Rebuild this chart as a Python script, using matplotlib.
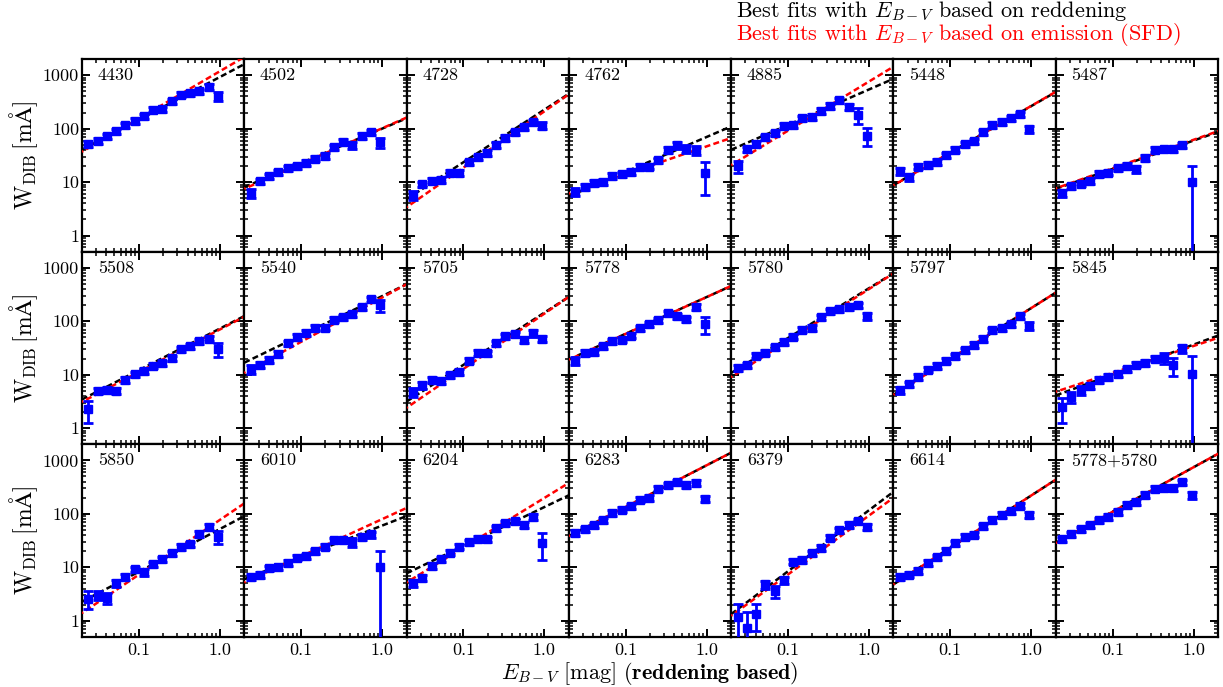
import numpy as np
import matplotlib.pyplot as plt
from matplotlib import ticker

plt.rcParams['font.family'] = 'cmr10'
plt.rcParams['mathtext.fontset'] = 'cm'
plt.rcParams['axes.formatter.use_mathtext'] = True
plt.rcParams['axes.unicode_minus'] = False

# reddening bins (same for every DIB)
ebv = [0.024, 0.0312, 0.0406, 0.0527, 0.0685, 0.0891, 0.116, 0.150, 0.196,
       0.254, 0.331, 0.430, 0.559, 0.727, 0.945]

panels = ['4430', '4502', '4728', '4762', '4885', '5448', '5487',
          '5508', '5540', '5705', '5778', '5780', '5797', '5845',
          '5850', '6010', '6204', '6283', '6379', '6614', '5778+5780']

# equivalent widths [mA] and errors per DIB
w_4430 = [51.5, 58.7, 72.6, 88.6, 115, 140, 171, 227, 232, 329, 431, 464, 505, 599, 413]
e_4430 = [6, 7, 8, 10, 13, 16, 19, 25, 26, 37, 48, 52, 58, 75, 80]
w_4502 = [6.3, 10.3, 12.9, 15.3, 18.2, 19.8, 22.9, 27.5, 30.9, 44.7, 56.1, 49.4, 73.6, 84.9, 55.3]
e_4502 = [1.2, 1.2, 1.5, 1.8, 2.1, 2.2, 2.6, 3.1, 3.5, 5.5, 7, 8, 9, 10, 11]
w_4728 = [5.7, 9.1, 10.6, 10.9, 14.9, 14.9, 23.4, 29.4, 35.4, 49.9, 67.2, 85.5, 107, 133, 114]
e_4728 = [1.1, 1.1, 1.2, 1.3, 1.7, 1.7, 2.7, 3.3, 4, 5.6, 7.5, 9.5, 12, 15, 17]
w_4762 = [6.6, 8.1, 9.7, 10.0, 13.1, 14.1, 15.5, 19.5, 19.5, 25.5, 40.3, 48.4, 41.4, 39.1, 14.5]
e_4762 = [1.0, 1.0, 1.1, 1.2, 1.5, 1.6, 1.8, 2.2, 2.2, 3, 6, 7, 7, 7.5, 8.8]
w_4885 = [19.8, 40.8, 52, 69, 83.2, 114, 117, 158, 165, 215, 267, 340, 255, 181, 74]
e_4885 = [5, 4.6, 6, 8, 9, 13, 13, 18, 19, 24, 30, 38, 35, 61, 27]
w_5448 = [15.8, 12.4, 19.5, 21, 23.9, 31.8, 40.5, 51.5, 58.6, 86, 118, 134, 155, 186, 99.4]
e_5448 = [2.2, 2.0, 2.2, 2.4, 2.7, 3.6, 4.6, 5.8, 6.6, 9.7, 13, 15, 17, 21, 15]
w_5487 = [6.25, 8.3, 9.3, 10.6, 14.3, 15.1, 18, 20.1, 17.4, 28.3, 40.4, 41, 41, 48.7, 10]
e_5487 = [0.9, 0.9, 1.0, 1.2, 1.6, 1.7, 2.0, 2.3, 2.4, 3.2, 4.5, 4.6, 4.6, 5.5, 9.9]

w_5508 = [2.25, 5.0, 5.15, 5.0, 8.1, 10.1, 11.8, 14.8, 16.3, 20.2, 30.1, 33.8, 42.4, 47.5, 30.1]
e_5508 = [1.0, 0.7, 0.7, 0.7, 1.0, 1.2, 1.3, 1.7, 1.8, 2.3, 3.5, 3.8, 4.8, 5.3, 9]
w_5540 = [13, 15.4, 19.1, 24.7, 38.9, 51, 60.5, 74.9, 76, 107, 118, 134, 184, 255, 200]
e_5540 = [2.5, 2.2, 2.5, 3, 4.4, 5.8, 6.8, 8.4, 8.5, 12, 13, 15, 21, 29, 50]
w_5705 = [4.8, 6.4, 7.9, 7.7, 9.8, 11.3, 18.3, 25.7, 25, 38.9, 52.5, 57.2, 45.5, 59.7, 47.5]
e_5705 = [0.9, 0.9, 1.0, 1.0, 1.1, 1.3, 2.1, 2.9, 2.8, 4.4, 6, 6.5, 5.5, 8, 6]
w_5778 = [18, 25.4, 26.5, 33.7, 42.4, 45.5, 54, 73.8, 88.8, 105, 140, 123, 108, 186, 89]
e_5778 = [3, 3, 3, 3.8, 4.8, 5.1, 6, 8.3, 10, 12, 16, 14, 12, 21, 31]
w_5780 = [13.4, 15.2, 22.6, 25.8, 32.8, 41.2, 51.8, 69.8, 74.9, 118, 153, 169, 186, 197, 123]
e_5780 = [1.5, 1.7, 2.5, 2.9, 3.7, 4.6, 5.8, 7.8, 8.4, 13, 17, 19, 21, 22, 17]
w_5797 = [5.15, 6.65, 9.1, 12.4, 14.6, 18.3, 22, 28.9, 36.2, 46.8, 67.7, 73.8, 88.8, 123, 81.7]
e_5797 = [0.8, 0.8, 1.0, 1.4, 1.6, 2.0, 2.5, 3.2, 4, 5.2, 7.6, 8.3, 10, 14, 14]
w_5845 = [2.45, 3.87, 5.15, 6.2, 8.1, 9.1, 10.4, 12.6, 15.4, 16.6, 19.9, 20.5, 15, 31, 10.5]
e_5845 = [1.2, 0.9, 0.9, 0.9, 1.0, 1.1, 1.2, 1.4, 1.7, 1.9, 2.2, 4.5, 5.5, 5.3, 11.5]

w_5850 = [2.6, 3.0, 2.7, 5.0, 6.7, 9.2, 8.0, 11.4, 14.1, 18.2, 24.3, 26.8, 42.4, 57.2, 37.2]
e_5850 = [0.95, 0.6, 0.6, 0.7, 0.9, 1.1, 1.1, 1.3, 1.6, 2.1, 2.9, 3.2, 5, 7, 10.5]
w_6010 = [6.7, 7.3, 9.7, 10, 12.1, 15.1, 16.3, 19.9, 24.3, 32.3, 32.3, 29.6, 37.3, 41.2, 10.1]
e_6010 = [0.9, 0.9, 1.1, 1.1, 1.3, 1.6, 1.8, 2.2, 2.7, 3.6, 3.6, 5.5, 4.5, 5.5, 10]
w_6204 = [5.0, 6.4, 10.6, 14.1, 18.8, 24.3, 29.6, 34.2, 33.2, 54.1, 67, 72, 62.4, 88, 28.8]
e_6204 = [0.8, 0.8, 1.2, 1.6, 2.1, 2.7, 3.3, 3.8, 3.7, 6, 7.5, 8, 7, 10, 15]
w_6283 = [44.3, 51, 61.5, 76.2, 104, 120, 139, 185, 199, 296, 342, 394, 347, 378, 190]
e_6283 = [5, 5.7, 6.8, 8.5, 11.5, 13, 15.5, 21, 22, 33, 38, 44, 39, 42, 27]
w_6379 = [1.19, 0.72, 1.33, 4.8, 3.6, 5.8, 12.8, 13.7, 18.2, 23.2, 35.7, 49.6, 62.4, 73, 57.3]
e_6379 = [0.86, 0.71, 0.7, 0.8, 0.9, 0.9, 1.5, 1.6, 2.1, 2.6, 4, 5.6, 7, 8.2, 8]
w_6614 = [6.6, 7.3, 8.5, 12.2, 15.4, 20.5, 28, 37.3, 40.6, 58.9, 76.2, 95.7, 112, 143, 95.7]
e_6614 = [0.8, 0.8, 1.0, 1.4, 1.7, 2.3, 3.1, 4.2, 4.5, 6.6, 8.5, 11, 12.5, 16, 12]
w_5778_5780 = [33.2, 41.2, 51, 60.7, 76.2, 88, 109, 147, 168, 226, 297, 301, 301, 394, 223]
e_5778_5780 = [3.7, 4.6, 5.7, 6.8, 8.5, 9.8, 12, 16.5, 19, 25, 33, 34, 34, 44, 36]

widths = [w_4430, w_4502, w_4728, w_4762, w_4885, w_5448, w_5487,
          w_5508, w_5540, w_5705, w_5778, w_5780, w_5797, w_5845,
          w_5850, w_6010, w_6204, w_6283, w_6379, w_6614, w_5778_5780]
errors = [e_4430, e_4502, e_4728, e_4762, e_4885, e_5448, e_5487,
          e_5508, e_5540, e_5705, e_5778, e_5780, e_5797, e_5845,
          e_5850, e_6010, e_6204, e_6283, e_6379, e_6614, e_5778_5780]

# power-law fits W = A * E^b
black_amp = [922, 100, 227, 70, 541, 265, 60, 72.8, 295, 145, 284, 415, 177, 36.6,
             51.9, 60.3, 134, 811, 117, 221, 746]
black_slope = [0.80, 0.644, 0.986, 0.654, 0.664, 0.87, 0.532, 0.78, 0.733, 0.979, 0.688,
               0.933, 0.956, 0.56, 0.80, 0.59, 0.73, 0.78, 1.144, 0.979, 0.832]
red_amp = [1183, 101.5, 211, 46.7, 762, 267, 62, 70, 277, 139, 284, 400, 177, 34.5,
           76.9, 79.5, 198.6, 811, 93, 221, 746]
red_slope = [0.886, 0.666, 1.056, 0.52, 0.921, 0.875, 0.535, 0.797, 0.829, 1.037, 0.69,
             0.97, 0.956, 0.504, 1.026, 0.697, 0.931, 0.78, 1.104, 0.98, 0.835]

fig, axes = plt.subplots(3, 7, sharex=True, sharey=True, figsize=(12.23, 6.87), dpi=100)
fig.subplots_adjust(left=0.067, right=0.996, top=0.914, bottom=0.073, wspace=0, hspace=0)

grid = np.geomspace(0.02, 2.0, 200)

for i, ax in enumerate(axes.flat):
    ax.set_xscale('log')
    ax.set_yscale('log')
    ax.plot(grid, black_amp[i] * grid ** black_slope[i], color='k', lw=1.8,
            ls=(0, (2.4, 1.3)), zorder=2)
    ax.plot(grid, red_amp[i] * grid ** red_slope[i], color='r', lw=1.8,
            ls=(1.8, (2.4, 1.3)), zorder=3)
    ax.errorbar(ebv, widths[i], yerr=errors[i], fmt='s', color='b', ms=5.8,
                elinewidth=2, capsize=3.8, capthick=2, zorder=4)
    ax.text(0.097, 0.89, panels[i], transform=ax.transAxes, fontsize=13)

    ax.set_xlim(0.02, 2.0)
    ax.set_ylim(0.5, 2000)
    ax.xaxis.set_major_locator(ticker.FixedLocator([0.1, 1.0]))
    ax.xaxis.set_major_formatter(ticker.FuncFormatter(lambda v, p: '%.1f' % v))
    ax.xaxis.set_minor_locator(ticker.LogLocator(base=10, subs=np.arange(2, 10)))
    ax.xaxis.set_minor_formatter(ticker.NullFormatter())
    ax.yaxis.set_major_locator(ticker.FixedLocator([1, 10, 100, 1000]))
    ax.yaxis.set_major_formatter(ticker.FuncFormatter(lambda v, p: '%d' % v))
    ax.yaxis.set_minor_locator(ticker.LogLocator(base=10, subs=np.arange(2, 10)))
    ax.yaxis.set_minor_formatter(ticker.NullFormatter())
    ax.tick_params(which='both', direction='in', top=True, right=True, labelsize=13)
    ax.tick_params(which='major', length=6, width=1.4)
    ax.tick_params(which='minor', length=3, width=1.1)
    ax.tick_params(axis='y', pad=2)
    ax.tick_params(axis='x', pad=4.5)
    for s in ax.spines.values():
        s.set_linewidth(1.6)

for ax in axes[:, 0]:
    ax.set_ylabel(r'$\mathrm{W_{DIB}}\,[\mathrm{m\AA}]$', fontsize=17, labelpad=2)

fig.text(0.531, 0.011, r'$E_{B-V}\ [\mathrm{mag}]\ \mathbf{(reddening\ based)}$',
         ha='center', va='baseline', fontsize=16)
fig.text(0.602, 0.975, r'Best fits with $E_{B-V}$ based on reddening',
         color='k', fontsize=16, va='baseline')
fig.text(0.602, 0.942, r'Best fits with $E_{B-V}$ based on emission (SFD)',
         color='r', fontsize=16, va='baseline')

fig.savefig('out.png', dpi=100)
